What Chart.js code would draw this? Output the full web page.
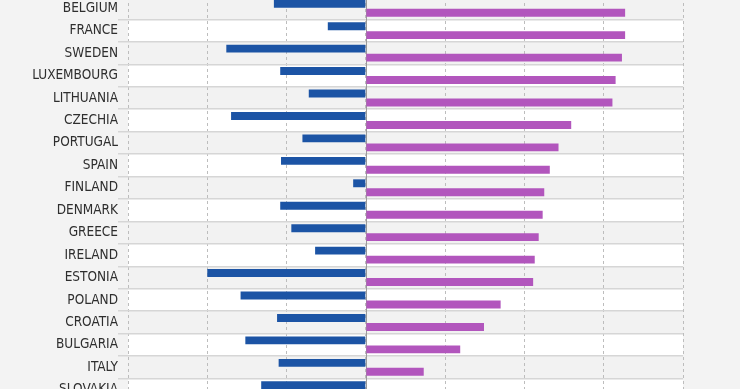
<!DOCTYPE html>
<html>
<head>
<meta charset="utf-8">
<script src="https://cdn.jsdelivr.net/npm/chart.js@4/dist/chart.umd.min.js"></script>
<style>
  html, body { margin: 0; padding: 0; background: #f3f3f3; }
  #wrap { position: relative; width: 740px; height: 389px; overflow: hidden; }
  #box { position: absolute; left: 0; top: -3px; width: 740px; height: 404px; }
</style>
</head>
<body>
<div id="wrap"><div id="box"><canvas id="chart"></canvas></div></div>
<script>
// categories (top to bottom)
const countries = ['BELGIUM', 'FRANCE', 'SWEDEN', 'LUXEMBOURG', 'LITHUANIA', 'CZECHIA',
  'PORTUGAL', 'SPAIN', 'FINLAND', 'DENMARK', 'GREECE', 'IRELAND', 'ESTONIA',
  'POLAND', 'CROATIA', 'BULGARIA', 'ITALY', 'SLOVAKIA'];

// blue bars (negative side)
const blueValues = [-5.8, -2.4, -8.8, -5.4, -3.6, -8.5, -4.0, -5.35, -0.8, -5.4,
  -4.7, -3.2, -10.0, -7.9, -5.6, -7.6, -5.5, -6.6];

// purple bars (positive side)
const purpleValues = [16.35, 16.35, 16.15, 15.75, 15.55, 12.95, 12.15, 11.6, 11.25, 11.15,
  10.9, 10.65, 10.55, 8.5, 7.45, 5.95, 3.65, 3.0];

// x axis range / step
const xMin = -15, xMax = 20, xStep = 5;

const BLUE = '#1c54a5';
const PURPLE = '#b256bd';

// row stripes + zero line
const stripePlugin = {
  id: 'stripes',
  beforeDraw(chart) {
    const { ctx, chartArea, scales } = chart;
    ctx.save();
    ctx.fillStyle = '#f3f3f3';
    ctx.fillRect(0, 0, chart.width, chart.height);
    const y = scales.y;
    const step = (chartArea.bottom - chartArea.top) / countries.length;
    countries.forEach((c, i) => {
      const cy = y.getPixelForValue(i);
      ctx.fillStyle = i % 2 === 0 ? '#f2f2f2' : '#ffffff';
      ctx.fillRect(chartArea.left, cy - step / 2, chartArea.right - chartArea.left, step);
    });
    ctx.restore();
  },
  beforeDatasetsDraw(chart) {
    const { ctx, chartArea, scales } = chart;
    const x0 = Math.round(scales.x.getPixelForValue(0)) + 0.5;
    ctx.save();
    ctx.strokeStyle = '#9a9a9a';
    ctx.lineWidth = 1;
    ctx.beginPath();
    ctx.moveTo(x0, chartArea.top);
    ctx.lineTo(x0, chartArea.bottom);
    ctx.stroke();
    ctx.restore();
  }
};

new Chart(document.getElementById('chart'), {
  type: 'bar',
  data: {
    labels: countries,
    datasets: [
      { label: 'A', data: blueValues, backgroundColor: BLUE },
      { label: 'B', data: purpleValues, backgroundColor: PURPLE }
    ]
  },
  plugins: [stripePlugin],
  options: {
    indexAxis: 'y',
    responsive: true,
    maintainAspectRatio: false,
    animation: false,
    categoryPercentage: 0.8,
    barPercentage: 0.88,
    layout: { padding: { left: 0, right: 57, top: 0, bottom: 0 } },
    plugins: { legend: { display: false }, tooltip: { enabled: false } },
    scales: {
      x: {
        min: xMin,
        max: xMax,
        afterFit(scale) { scale.height = 0; },
        ticks: { display: false, stepSize: xStep },
        border: { display: false, dash: [3, 3] },
        grid: { color: '#bdbdbd', drawTicks: false, lineWidth: 1 }
      },
      y: {
        afterFit(scale) {
          scale.width = 128;
          scale.paddingTop = 0;
          scale.paddingBottom = 0;
        },
        ticks: {
          color: '#2e2e2e',
          padding: 0,
          font: { family: '"Liberation Sans Narrow", "DejaVu Sans Condensed", sans-serif', size: 13.5 }
        },
        border: { display: false },
        grid: { offset: true, color: '#d6d6d6', lineWidth: 1.5, tickLength: 10 }
      }
    }
  }
});
</script>
</body>
</html>
